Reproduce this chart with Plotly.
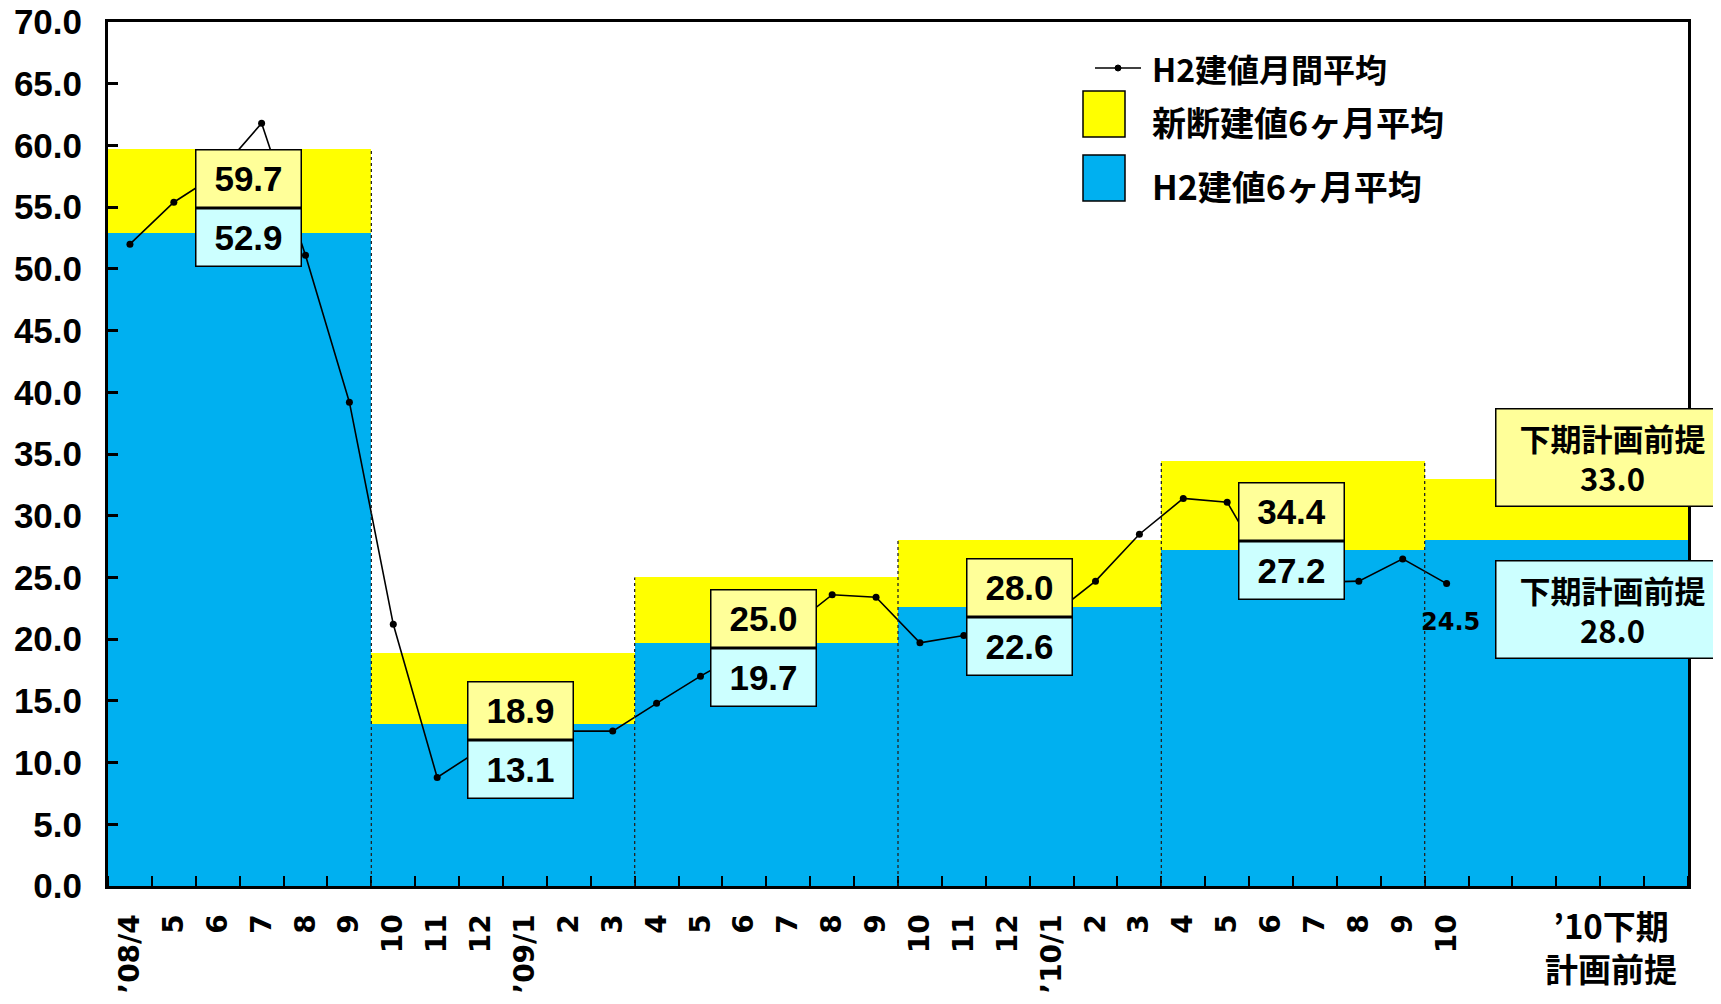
import plotly.graph_objects as go

# ---------------- data ----------------
month_labels = ["’08/4", "5", "6", "7", "8", "9", "10", "11", "12", "’09/1", "2", "3",
                "4", "5", "6", "7", "8", "9", "10", "11", "12", "’10/1", "2", "3",
                "4", "5", "6", "7", "8", "9", "10"]
extra_labels = ["", "", "", "", ""]  # remaining months of '10下期 (plan)
h2_monthly = [52.0, 55.4, 57.7, 61.8, 51.1, 39.2,
              21.2, 8.8, 11.1, 12.4, 12.55, 12.55,
              14.8, 17.0, 19.0, 20.8, 23.6, 23.4,
              19.7, 20.3, 20.5, 21.9, 24.7, 28.5,
              31.4, 31.1, 25.0, 24.6, 24.7, 26.5,
              24.5]
period_shindan = [59.7, 18.9, 25.0, 28.0, 34.4, 33.0]   # 新断建値6ヶ月平均
period_h2 = [52.9, 13.1, 19.7, 22.6, 27.2, 28.0]        # H2建値6ヶ月平均
months_per_period = 6
plan_label = "下期計画前提"
axis_plan_label = "’10下期<br>計画前提"
y_ticks = [0, 5, 10, 15, 20, 25, 30, 35, 40, 45, 50, 55, 60, 65, 70]

# ---------------- styles / positions ----------------
BLUE = "#00B0F0"
YELLOW = "#FFFF00"
BOX_Y = "#FFFF99"
BOX_C = "#CCFFFF"
NUM_FONT = "Liberation Sans, Arial, sans-serif"
WIDE_FONT = "DejaVu Sans, sans-serif"
JP_FONT = "Noto Sans CJK JP, sans-serif"
OFF = 8                      # default page body margin
W, H = 1721 - OFF, 1004 - OFF
L, R, T, B = 108, 1688, 22, 886   # plot area in page pixels
box_x = [2.71, 8.9, 14.43, 20.26, 26.46]
box_mid_y = [54.9, 11.8, 19.25, 21.83, 27.97]

def px(x):
    return (x - L) / (R - L)

def py(y):
    return (B - y) / (B - T)

all_labels = month_labels + extra_labels
n = len(all_labels)
xs = list(range(n))
shindan_m = [v for v in period_shindan for _ in range(months_per_period)]
h2_m = [v for v in period_h2 for _ in range(months_per_period)]

fig = go.Figure()
fig.add_trace(go.Bar(x=xs, y=shindan_m, width=1.0, marker=dict(color=YELLOW, line=dict(width=0)),
                     name="新断建値6ヶ月平均", hoverinfo="skip"))
fig.add_trace(go.Bar(x=xs, y=h2_m, width=1.0, marker=dict(color=BLUE, line=dict(width=0)),
                     name="H2建値6ヶ月平均", hoverinfo="skip"))
fig.add_trace(go.Scatter(x=list(range(len(h2_monthly))), y=h2_monthly, mode="lines+markers",
                         line=dict(color="black", width=1.6), marker=dict(color="black", size=7),
                         name="H2建値月間平均"))

shapes = []
# dotted period separators
nper = len(period_shindan)
for k in range(1, nper):
    xb = k * months_per_period - 0.5
    top = max(period_shindan[k - 1], period_shindan[k])
    shapes.append(dict(type="line", xref="x", yref="y", x0=xb, x1=xb, y0=0, y1=top,
                       line=dict(color="#222222", width=1.3, dash="dot"), layer="above"))

annotations = []
# value boxes for the first five periods
for k in range(nper - 1):
    annotations.append(dict(x=box_x[k], y=box_mid_y[k], xref="x", yref="y", yanchor="bottom", xanchor="center",
                            text=f"{period_shindan[k]:.1f}", showarrow=False,
                            font=dict(family=NUM_FONT, size=35, color="black", weight="bold"),
                            bgcolor=BOX_Y, bordercolor="black", borderwidth=1.5, borderpad=2,
                            width=100, height=52))
    annotations.append(dict(x=box_x[k], y=box_mid_y[k], xref="x", yref="y", yanchor="top", xanchor="center",
                            text=f"{period_h2[k]:.1f}", showarrow=False,
                            font=dict(family=NUM_FONT, size=35, color="black", weight="bold"),
                            bgcolor=BOX_C, bordercolor="black", borderwidth=1.5, borderpad=2,
                            width=100, height=52))

# plan boxes at right
annotations.append(dict(x=px(1495), y=py(408), xref="paper", yref="paper", xanchor="left", yanchor="top",
                        text=f"{plan_label}<br>{period_shindan[-1]:.1f}", showarrow=False,
                        font=dict(family=JP_FONT, size=31, color="black", weight="bold"),
                        bgcolor=BOX_Y, bordercolor="black", borderwidth=1.5, borderpad=2,
                        width=228, height=92))
annotations.append(dict(x=px(1495), y=py(560), xref="paper", yref="paper", xanchor="left", yanchor="top",
                        text=f"{plan_label}<br>{period_h2[-1]:.1f}", showarrow=False,
                        font=dict(family=JP_FONT, size=31, color="black", weight="bold"),
                        bgcolor=BOX_C, bordercolor="black", borderwidth=1.5, borderpad=2,
                        width=228, height=92))

# last monthly value label
annotations.append(dict(x=len(h2_monthly) - 1, y=h2_monthly[-1], xref="x", yref="y",
                        text=f"{h2_monthly[-1]:.1f}", showarrow=False, yshift=-38, xshift=4,
                        xanchor="center", yanchor="middle",
                        font=dict(family=WIDE_FONT, size=24, color="black", weight="bold")))

# x-axis plan label
annotations.append(dict(x=px(1611), y=py(946), xref="paper", yref="paper", xanchor="center", yanchor="middle",
                        text=axis_plan_label, showarrow=False,
                        font=dict(family=JP_FONT, size=33, color="black", weight="bold")))

# manual legend
shapes.append(dict(type="line", xref="paper", yref="paper", x0=px(1095), x1=px(1141), y0=py(68), y1=py(68),
                   line=dict(color="black", width=1.6)))
shapes.append(dict(type="circle", xref="paper", yref="paper", x0=px(1115), x1=px(1121), y0=py(71), y1=py(65),
                   fillcolor="black", line=dict(color="black", width=1)))
shapes.append(dict(type="rect", xref="paper", yref="paper", x0=px(1083), x1=px(1125), y0=py(137), y1=py(91),
                   fillcolor=YELLOW, line=dict(color="black", width=1.5)))
shapes.append(dict(type="rect", xref="paper", yref="paper", x0=px(1083), x1=px(1125), y0=py(201), y1=py(155),
                   fillcolor=BLUE, line=dict(color="black", width=1.5)))
for name, yy, sz in [("H2建値月間平均", 68, 32), ("新断建値6ヶ月平均", 122, 34), ("H2建値6ヶ月平均", 186, 34)]:
    annotations.append(dict(x=px(1150), y=py(yy), xref="paper", yref="paper", xanchor="left", yanchor="middle",
                            text=name, showarrow=False,
                            font=dict(family=JP_FONT, size=sz, color="black", weight="bold")))

fig.update_layout(
    width=W, height=H,
    margin=dict(l=L - OFF, r=(W + OFF) - R, t=T - OFF, b=(H + OFF) - B, autoexpand=False),
    barmode="overlay", bargap=0,
    paper_bgcolor="white", plot_bgcolor="white",
    showlegend=False,
    shapes=shapes, annotations=annotations,
    xaxis=dict(range=[-0.5, n - 0.5], tickmode="array", tickvals=xs, ticktext=all_labels,
               tickangle=-90, ticks="", showgrid=False, zeroline=False, automargin=False,
               showline=True, linecolor="black", linewidth=3, mirror=True,
               tickfont=dict(family=WIDE_FONT, size=28, color="black", weight="bold"),
               ticklabelstandoff=14, ticklabeloverflow="allow",
               minor=dict(tickmode="array", tickvals=[i - 0.5 for i in range(n + 1)],
                          ticks="inside", ticklen=10, tickwidth=2, tickcolor="black", showgrid=False)),
    yaxis=dict(range=[0, 70], tickmode="array", tickvals=y_ticks, tickformat=".1f",
               ticks="inside", ticklen=10, tickwidth=2.5, tickcolor="black",
               showgrid=False, zeroline=False, automargin=False,
               showline=True, linecolor="black", linewidth=3, mirror=True,
               tickfont=dict(family=NUM_FONT, size=35, color="black", weight="bold"),
               ticklabelstandoff=16, ticklabeloverflow="allow"),
)

fig.write_html("out.html")
